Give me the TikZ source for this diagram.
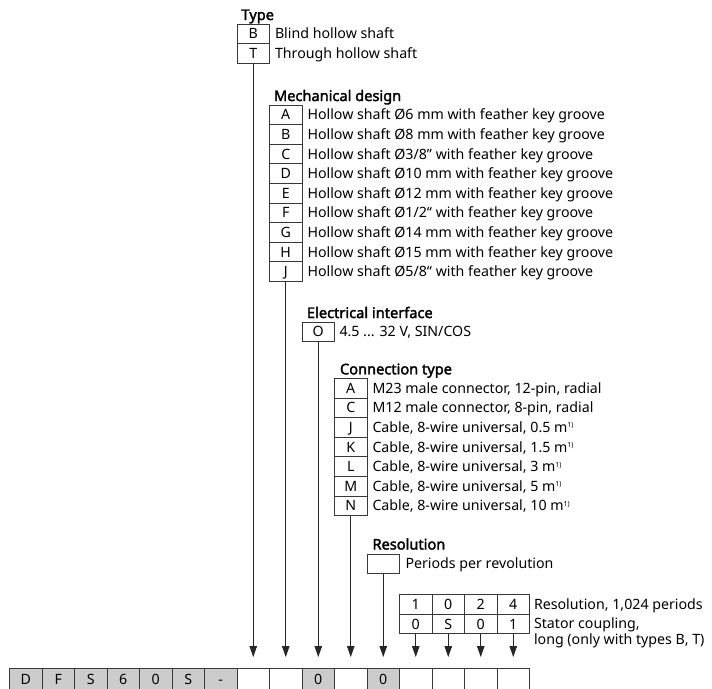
\documentclass[tikz,border=0pt]{standalone}
\usepackage{fontspec}
\setmainfont{Noto Sans}[AutoFakeBold=2.2]
\usetikzlibrary{arrows.meta}
\newcommand\fnmark{\raisebox{4.5pt}{\fontsize{7}{7}\selectfont 1)}}
\begin{document}
\begin{tikzpicture}[x=1pt,y=-1pt,
  lc/.style={draw=black!78, line width=0.8pt},
  opt/.style={lc, minimum width=32.5pt, minimum height=19.6pt, inner sep=0pt, outer sep=0pt,
    text height=10.2pt, text depth=0pt, font=\fontsize{14.2}{17}\selectfont, text=black},
  cell/.style={opt, minimum height=22pt},
  gcell/.style={cell, fill=black!20},
  desc/.style={anchor=base west, inner sep=0pt, outer sep=0pt, font=\fontsize{14.2}{17}\selectfont, text=black},
  lab/.style={desc, font=\fontsize{14.6}{17}\selectfont\bfseries},
  arr/.style={draw=black!85, line width=0.8pt, -{Triangle[length=11pt,width=7.5pt]}, shorten >=11pt}
]
\useasboundingbox (0,0) rectangle (712,688);

% bottom row
\foreach \k/\t/\s in {1/D/gcell,2/F/gcell,3/S/gcell,4/6/gcell,5/0/gcell,6/S/gcell,7/-/gcell,8//cell,9//cell,10/0/gcell,11//cell,12/0/gcell,13//cell,14//cell,15//cell,16//cell}{
  \node[\s, anchor=north] (c\k) at ({9.5+32.5*(\k-0.5)},668) {\t};
}

% Type
\node[lab] (typeL) at (241.5,20) {Type};
\node[opt] (t1) at (253.25,33.8) {B};
\node[opt] (t2) at (253.25,53.4) {T};
\node[desc] (td1) at (275,38.9) {Blind hollow shaft};
\node[desc] (td2) at (275,58.5) {Through hollow shaft};

% Mechanical design
\node[lab] (mechL) at (274,101) {Mechanical design};
\foreach \i/\l/\t in {0/A/{Hollow shaft Ø6 mm with feather key groove},
  1/B/{Hollow shaft Ø8 mm with feather key groove},
  2/C/{Hollow shaft Ø3/8” with feather key groove},
  3/D/{Hollow shaft Ø10 mm with feather key groove},
  4/E/{Hollow shaft Ø12 mm with feather key groove},
  5/F/{Hollow shaft Ø1/2“ with feather key groove},
  6/G/{Hollow shaft Ø14 mm with feather key groove},
  7/H/{Hollow shaft Ø15 mm with feather key groove},
  8/J/{Hollow shaft Ø5/8“ with feather key groove}}{
  \node[opt] (m\i) at (285.75,{114.8+19.6*\i}) {\l};
  \node[desc] (md\i) at (307.5,{119.9+19.6*\i}) {\t};
}

% Electrical interface
\node[lab] (elL) at (307,318) {Electrical interface};
\node[opt] (e1) at (318.25,331.8) {O};
\node[desc] (ed1) at (339.5,336.9) {4.5 ... 32 V, SIN/COS};

% Connection type
\node[lab] (conL) at (340,374.3) {Connection type};
\foreach \i/\l/\t in {0/A/{M23 male connector, 12-pin, radial},
  1/C/{M12 male connector, 8-pin, radial},
  2/J/{Cable, 8-wire universal, 0.5 m\fnmark},
  3/K/{Cable, 8-wire universal, 1.5 m\fnmark},
  4/L/{Cable, 8-wire universal, 3 m\fnmark},
  5/M/{Cable, 8-wire universal, 5 m\fnmark},
  6/N/{Cable, 8-wire universal, 10 m\fnmark}}{
  \node[opt] (k\i) at (350.75,{388.1+19.6*\i}) {\l};
  \node[desc] (kd\i) at (372.5,{393.2+19.6*\i}) {\t};
}

% Resolution
\node[lab] (resL) at (372.5,549.5) {Resolution};
\node[opt] (r1) at (383.25,563.8) {};
\node[desc] (rd1) at (405.5,568.9) {Periods per revolution};

% Table
\foreach \j/\a/\b in {1/1/0,2/0/S,3/2/0,4/4/1}{
  \node[opt] (p\j) at ({383.25+32.5*\j},604.3) {\a};
  \node[opt] (s\j) at ({383.25+32.5*\j},623.9) {\b};
}
\node[desc] (pd1) at (534,609.4) {Resolution, 1,024 periods};
\node[desc] (sd1) at (534,628.5) {Stator coupling,};
\node[desc] (sd2) at (534,644) {long (only with types B, T)};

% connectors
\draw[arr] (t2.south) -- (c8.north);
\draw[arr] (m8.south) -- (c9.north);
\draw[arr] (e1.south) -- (c10.north);
\draw[arr] (k6.south) -- (c11.north);
\draw[arr] (r1.south) -- (c12.north);
\draw[arr] (s1.south) -- (c13.north);
\draw[arr] (s2.south) -- (c14.north);
\draw[arr] (s3.south) -- (c15.north);
\draw[arr] (s4.south) -- (c16.north);
\end{tikzpicture}
\end{document}
